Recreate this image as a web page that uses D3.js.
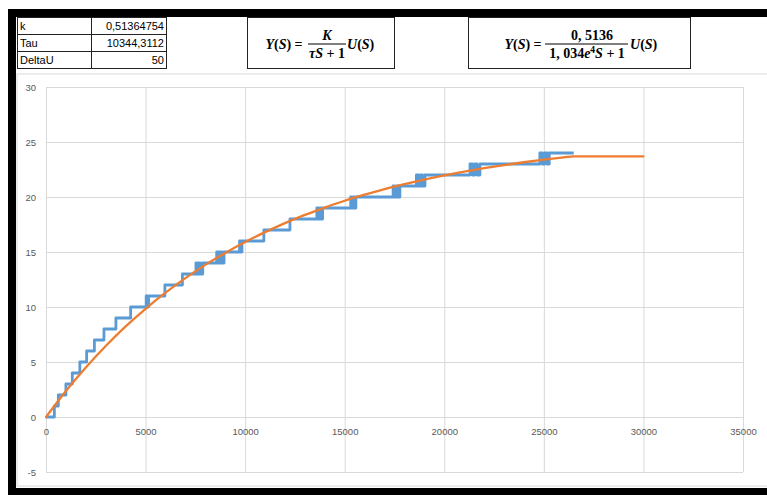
<!DOCTYPE html>
<html>
<head>
    <title>Step response</title>
    <script src="https://d3js.org/d3.v7.min.js"></script>
    <style>
      body{ margin:0; background:white; }
      .tick text{ fill:#595959; font-family:"Liberation Sans",Arial,sans-serif; font-size:9.5px; }
      .grid line{ stroke:#d9d9d9; stroke-width:1; }
      .grid .domain{ display:none; }
      .labels .domain{ display:none; }
      .tbl text{ font-family:"Liberation Sans",Arial,sans-serif; font-size:11px; fill:#000; }
      .eq text{ font-family:"Liberation Serif","Times New Roman",serif; font-size:14px; font-weight:bold; fill:#000; }
      path.series{ fill:none; }
    </style>
</head>
<body>
<script>
// parameters table
var tableLabels = ["k", "Tau", "DeltaU"];
var tableValues = ["0,51364754", "10344,3112", "50"];

// measured response (time where the level changes, new level)
var blueT = [0, 420, 620, 1000, 1320, 1700, 2040, 2430, 2910, 3510, 4250,
  5030, 5090, 5150, 5970, 6850,
  7530, 7600, 7670, 7740, 7870,
  8570, 8660, 8750, 8840, 8940,
  9720, 9780, 9840, 10940, 12250,
  13600, 13680, 13760, 13820, 13890,
  15300, 15380, 15460, 15500, 15560,
  17430, 17510, 17600, 17680, 17770,
  18600, 18700, 18800, 18900, 19030,
  21290, 21410, 21530, 21650, 21790,
  24800, 24920, 25040, 25160, 25270, 26500];
var blueY = [0, 1, 2, 3, 4, 5, 6, 7, 8, 9, 10,
  11, 10, 11, 12, 13,
  14, 13, 14, 13, 14,
  15, 14, 15, 14, 15,
  16, 15, 16, 17, 18,
  19, 18, 19, 18, 19,
  20, 19, 20, 19, 20,
  21, 20, 21, 20, 21,
  22, 21, 22, 21, 22,
  23, 22, 23, 22, 23,
  24, 23, 24, 23, 24, 24];

// model curve
var orangeT = [0, 1000, 2000, 3000, 4000, 5000, 6000, 7000, 8000, 9000, 10000,
  11000, 12000, 13000, 14000, 15000, 16000, 17000, 18000, 19000, 20000,
  21000, 22000, 23000, 24000, 25000, 26000, 26500, 30000];
var orangeY = [0, 2.37, 4.51, 6.46, 8.24, 9.84, 11.3, 12.63, 13.83, 14.92, 15.91,
  16.81, 17.63, 18.37, 19.04, 19.66, 20.21, 20.72, 21.17, 21.59, 21.97,
  22.31, 22.62, 22.9, 23.16, 23.39, 23.6, 23.7, 23.7];

var xTicks = [0, 5000, 10000, 15000, 20000, 25000, 30000, 35000];
var yTicks = [-5, 0, 5, 10, 15, 20, 25, 30];

var W = 767, H = 495;
var svg = d3.select("body").append("svg").attr("width", W).attr("height", H);

// sheet frame
svg.append("rect").attr("x", 17).attr("y", 74).attr("width", W).attr("height", 412)
  .attr("fill", "white").attr("stroke", "#d9d9d9");
svg.append("rect").attr("x", 8).attr("y", 9).attr("width", W).attr("height", 8).attr("fill", "#000");
svg.append("rect").attr("x", 8).attr("y", 9).attr("width", 8).attr("height", H).attr("fill", "#000");
svg.append("rect").attr("x", 8).attr("y", 488).attr("width", W).attr("height", 8).attr("fill", "#000");

// table
var tbl = svg.append("g").attr("class", "tbl");
tableLabels.forEach(function(l, i){
  var y0 = 17 + i * 17;
  tbl.append("rect").attr("x", 17.5).attr("y", y0 + 0.5).attr("width", 74).attr("height", 17)
    .attr("fill", "none").attr("stroke", "#222");
  tbl.append("rect").attr("x", 91.5).attr("y", y0 + 0.5).attr("width", 75).attr("height", 17)
    .attr("fill", "none").attr("stroke", "#222");
  tbl.append("text").attr("x", 20).attr("y", y0 + 12.5).text(l);
  tbl.append("text").attr("x", 164).attr("y", y0 + 12.5).attr("text-anchor", "end").text(tableValues[i]);
});

// equations
var eq = svg.append("g").attr("class", "eq");
eq.append("rect").attr("x", 247.5).attr("y", 17.5).attr("width", 147).attr("height", 51)
  .attr("fill", "white").attr("stroke", "#222");
eq.append("rect").attr("x", 468.5).attr("y", 17.5).attr("width", 222).attr("height", 51)
  .attr("fill", "white").attr("stroke", "#222");

function lhs(cx){
  var t = eq.append("text").attr("x", cx).attr("y", 49).attr("text-anchor", "middle");
  t.append("tspan").attr("font-style", "italic").text("Y");
  t.append("tspan").text("(");
  t.append("tspan").attr("font-style", "italic").text("S");
  t.append("tspan").text(") =");
}
function rhs(x0){
  var t = eq.append("text").attr("x", x0).attr("y", 49);
  t.append("tspan").attr("font-style", "italic").text("U");
  t.append("tspan").text("(");
  t.append("tspan").attr("font-style", "italic").text("S");
  t.append("tspan").text(")");
}
lhs(284);
eq.append("line").attr("x1", 308).attr("x2", 346).attr("y1", 44).attr("y2", 44).attr("stroke", "#000").attr("stroke-width", 1);
eq.append("text").attr("x", 327).attr("y", 40).attr("text-anchor", "middle").attr("font-style", "italic").text("K");
var d1 = eq.append("text").attr("x", 327).attr("y", 58).attr("text-anchor", "middle");
d1.append("tspan").attr("font-style", "italic").text("τS");
d1.append("tspan").text(" + 1");
rhs(347);

lhs(523);
eq.append("line").attr("x1", 545).attr("x2", 628).attr("y1", 44).attr("y2", 44).attr("stroke", "#000").attr("stroke-width", 1);
eq.append("text").attr("x", 592).attr("y", 40).attr("text-anchor", "middle").text("0, 5136");
var d2 = eq.append("text").attr("x", 587).attr("y", 58).attr("text-anchor", "middle");
d2.append("tspan").text("1, 034");
d2.append("tspan").attr("font-style", "italic").text("e");
d2.append("tspan").attr("font-size", "9.5px").attr("dy", -5).text("4");
d2.append("tspan").attr("font-style", "italic").attr("dy", 5).text("S");
d2.append("tspan").text(" + 1");
rhs(630);

// plot
var x = d3.scaleLinear().domain([0, 35000]).range([46, 743]);
var y = d3.scaleLinear().domain([-5, 30]).range([472, 87]);

svg.append("g").attr("class", "grid").attr("transform", "translate(0," + y(-5) + ")")
  .call(d3.axisBottom(x).tickValues(xTicks).tickSize(-(y(-5) - y(30))).tickFormat(""));
svg.append("g").attr("class", "grid").attr("transform", "translate(" + x(0) + ",0)")
  .call(d3.axisLeft(y).tickValues(yTicks).tickSize(-(x(35000) - x(0))).tickFormat(""));

svg.append("g").attr("class", "labels").attr("transform", "translate(0," + y(0) + ")")
  .call(d3.axisBottom(x).tickValues(xTicks).tickSize(0).tickPadding(11).tickFormat(function(d){ return String(d); }));
svg.append("g").attr("class", "labels").attr("transform", "translate(" + x(0) + ",0)")
  .call(d3.axisLeft(y).tickValues(yTicks).tickSize(0).tickPadding(10).tickFormat(function(d){ return String(d); }));

var blue = blueT.map(function(t, i){ return [t, blueY[i]]; });
var orange = orangeT.map(function(t, i){ return [t, orangeY[i]]; });

svg.append("path").datum(blue).attr("class", "series")
  .attr("stroke", "#5b9bd5").attr("stroke-width", 2.8).attr("stroke-linejoin", "round")
  .attr("d", d3.line().x(function(d){ return x(d[0]); }).y(function(d){ return y(d[1]); }).curve(d3.curveStepAfter));

svg.append("path").datum(orange).attr("class", "series")
  .attr("stroke", "#ed7d31").attr("stroke-width", 2.3).attr("stroke-linejoin", "round").attr("stroke-linecap", "round")
  .attr("d", d3.line().x(function(d){ return x(d[0]); }).y(function(d){ return y(d[1]); }).curve(d3.curveMonotoneX));
</script>
</body>
</html>
